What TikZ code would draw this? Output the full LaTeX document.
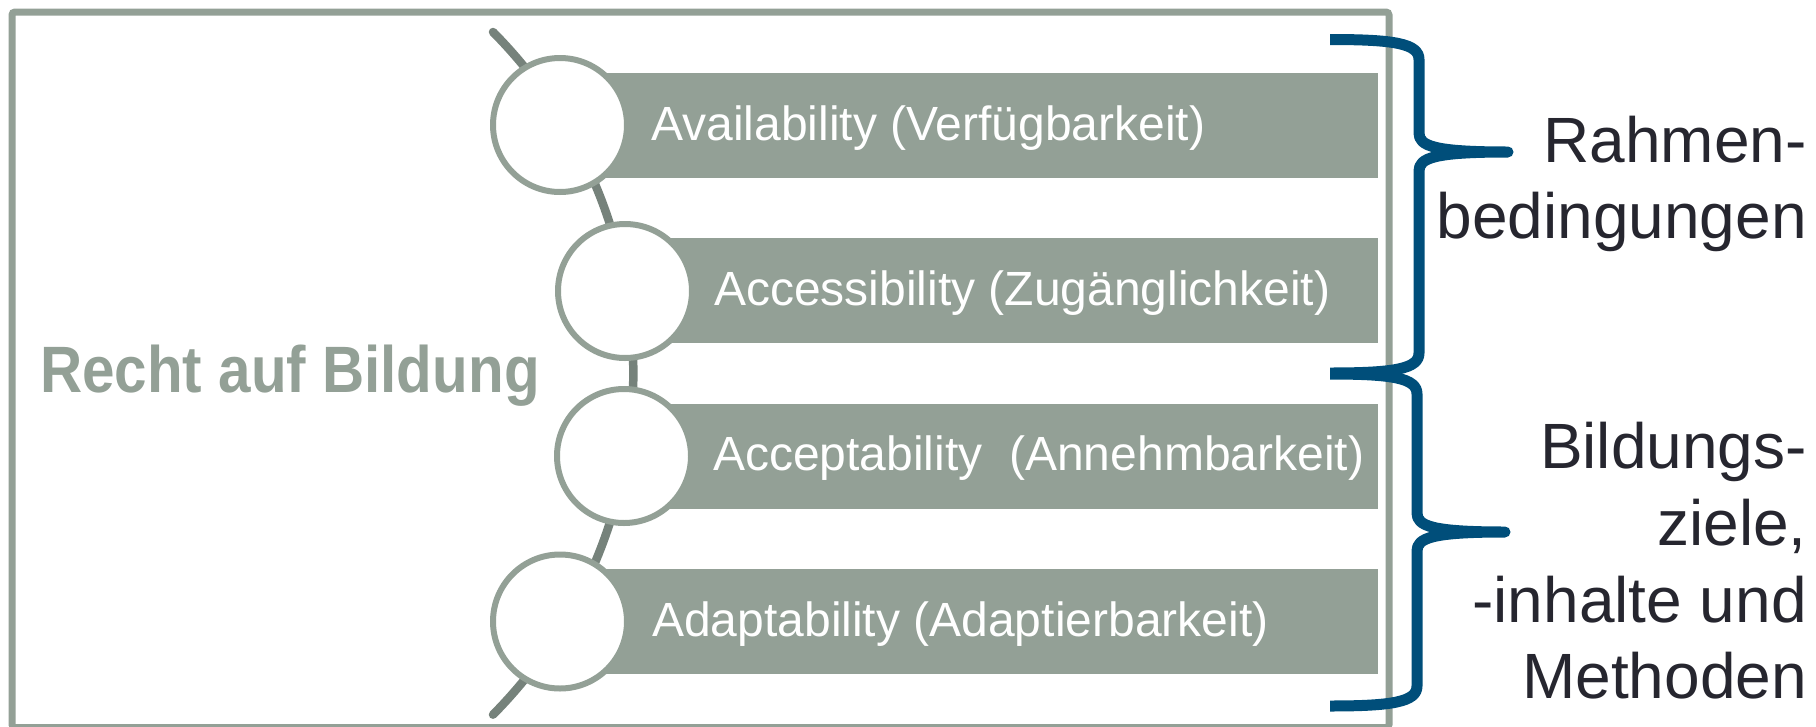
\documentclass[tikz,border=0pt]{standalone}
\usepackage{fontspec}
\setmainfont{Liberation Sans}
\usepackage{graphicx}
\definecolor{sage}{HTML}{93A096}
\definecolor{sagedark}{HTML}{76827B}
\definecolor{braceblue}{HTML}{004E7A}
\definecolor{ink}{HTML}{26262F}
\newcommand\drawbrace[6]{%
  \draw[bracepath] (#6,#1) .. controls (#4-25,#1) and (#4,#1+4) .. (#4,#1+20)
    -- (#4,#2-19) .. controls (#4,#2-6) and (#4+15,#2) .. (#5,#2)
    .. controls (#4+15,#2) and (#4,#2+6) .. (#4,#2+19)
    -- (#4,#3-20) .. controls (#4,#3-4) and (#4-25,#3) .. (#6,#3);}
\begin{document}
\begin{tikzpicture}[x=1pt,y=-1pt,
  frame/.style={draw=sage, line width=7pt, rounded corners=3pt},
  spine/.style={draw=sagedark, line width=8.5pt, line cap=round},
  bar/.style={fill=sage, draw=none, anchor=west, minimum height=105pt, inner sep=0pt},
  dot/.style={circle, draw=sage, fill=white, line width=6pt, minimum size=134pt, inner sep=0pt},
  bartext/.style={anchor=base west, text=white, inner sep=0pt, font=\fontsize{48}{58}\selectfont},
  side/.style={anchor=base east, text=ink, inner sep=0pt, font=\fontsize{64}{76}\selectfont},
  bracepath/.style={draw=braceblue, line width=11pt, line join=round},
]
\useasboundingbox (0,0) rectangle (1816,726);
\clip (0,0) rectangle (1816,726);
% frame
\draw[frame] (12,12) rectangle (1389,727.5);
% spine arc
\coordinate (spinetop) at (493,32);
\draw[spine] (spinetop) arc[start angle=-44.7, end angle=44.7, radius=485.3];
% bars
\node[bar, minimum width=818pt] (b1) at (560,125.5) {};
\node[bar, minimum width=753pt] (b2) at (625,290.5) {};
\node[bar, minimum width=754pt] (b3) at (624,456) {};
\node[bar, minimum width=818pt] (b4) at (560,621.5) {};
% circles
\node[dot] (c1) at (560,125) {};
\node[dot] (c2) at (625,291) {};
\node[dot] (c3) at (624,456) {};
\node[dot] (c4) at (560,621.5) {};
% bar texts
\node[bartext] (t1) at (651,140) {Availability (Verfügbarkeit)};
\node[bartext] (t2) at (714,305.7) {Accessibility (Zugänglichkeit)};
\node[bartext] (t3) at (713,470.7) {Acceptability\ \ (Annehmbarkeit)};
\node[bartext] (t4) at (652,636.7) {Adaptability (Adaptierbarkeit)};
% title
\node[anchor=base west, inner sep=0pt, text=sage, font=\fontsize{65.6}{70}\selectfont\bfseries] (title) at (40,392) {\scalebox{0.89}[1]{Recht auf Bildung}};
% right labels
\node[side] (r1) at (1807,162) {Rahmen-};
\node[side] (r2) at (1807,238) {bedingungen};
\node[side] (s1) at (1807,468) {Bildungs-};
\node[side] (s2) at (1807,545) {ziele,};
\node[side] (s3) at (1807,622) {-inhalte und};
\node[side] (s4) at (1807,698) {Methoden};
% braces
\drawbrace{39.5}{152}{373}{1419}{1508}{1330}
\drawbrace{374}{532}{706}{1417}{1505}{1330}
\end{tikzpicture}
\end{document}
